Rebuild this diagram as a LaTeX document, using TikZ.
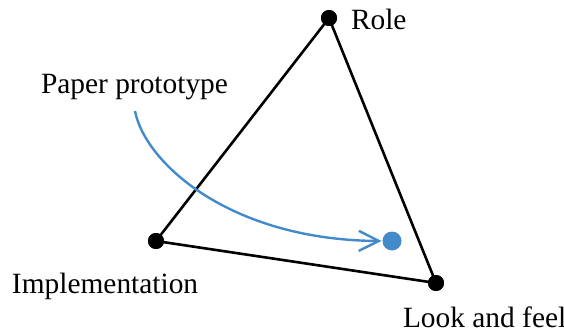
\documentclass[tikz,border=0pt]{standalone}
\usepackage{fontspec}
\setmainfont{Liberation Serif}
\usetikzlibrary{arrows.meta}
\definecolor{protoblue}{RGB}{66,138,202}
\begin{document}
\begin{tikzpicture}[x=1pt,y=-1pt,
  lbl/.style={anchor=base west,inner sep=0pt,outer sep=0pt,text depth=0pt,font=\fontsize{29.4}{34}\selectfont},
  vdot/.style={circle,fill=black,minimum size=16pt,inner sep=0pt,outer sep=0pt},
  bdot/.style={circle,fill=protoblue,minimum size=19pt,inner sep=0pt,outer sep=0pt},
  edge/.style={line width=2.6pt,black},
  flow/.style={line width=2.4pt,protoblue,-{Straight Barb[length=20pt,width=20pt,line width=2.4pt]}}]
\useasboundingbox (0,0) rectangle (564,331);
\node[vdot] (role) at (329,18) {};
\node[vdot] (impl) at (156,241) {};
\node[vdot] (look) at (436,283) {};
\draw[edge] (role.center) -- (impl.center) -- (look.center) -- cycle;
\node[vdot] at (329,18) {};
\node[vdot] at (156,241) {};
\node[vdot] at (436,283) {};
\node[bdot] (proto) at (392,241) {};
\node[lbl] (rolel) at (351,30) {Role};
\node[lbl] (paperl) at (41,94) {Paper prototype};
\node[lbl] (impll) at (12,293) {Implementation};
\node[lbl] (lookl) at (403,327) {Look and feel};
\coordinate (start) at (135,111);
\draw[flow] (start) .. controls (145,163) and (230,240) .. ([xshift=-1pt]proto.west);
\end{tikzpicture}
\end{document}
